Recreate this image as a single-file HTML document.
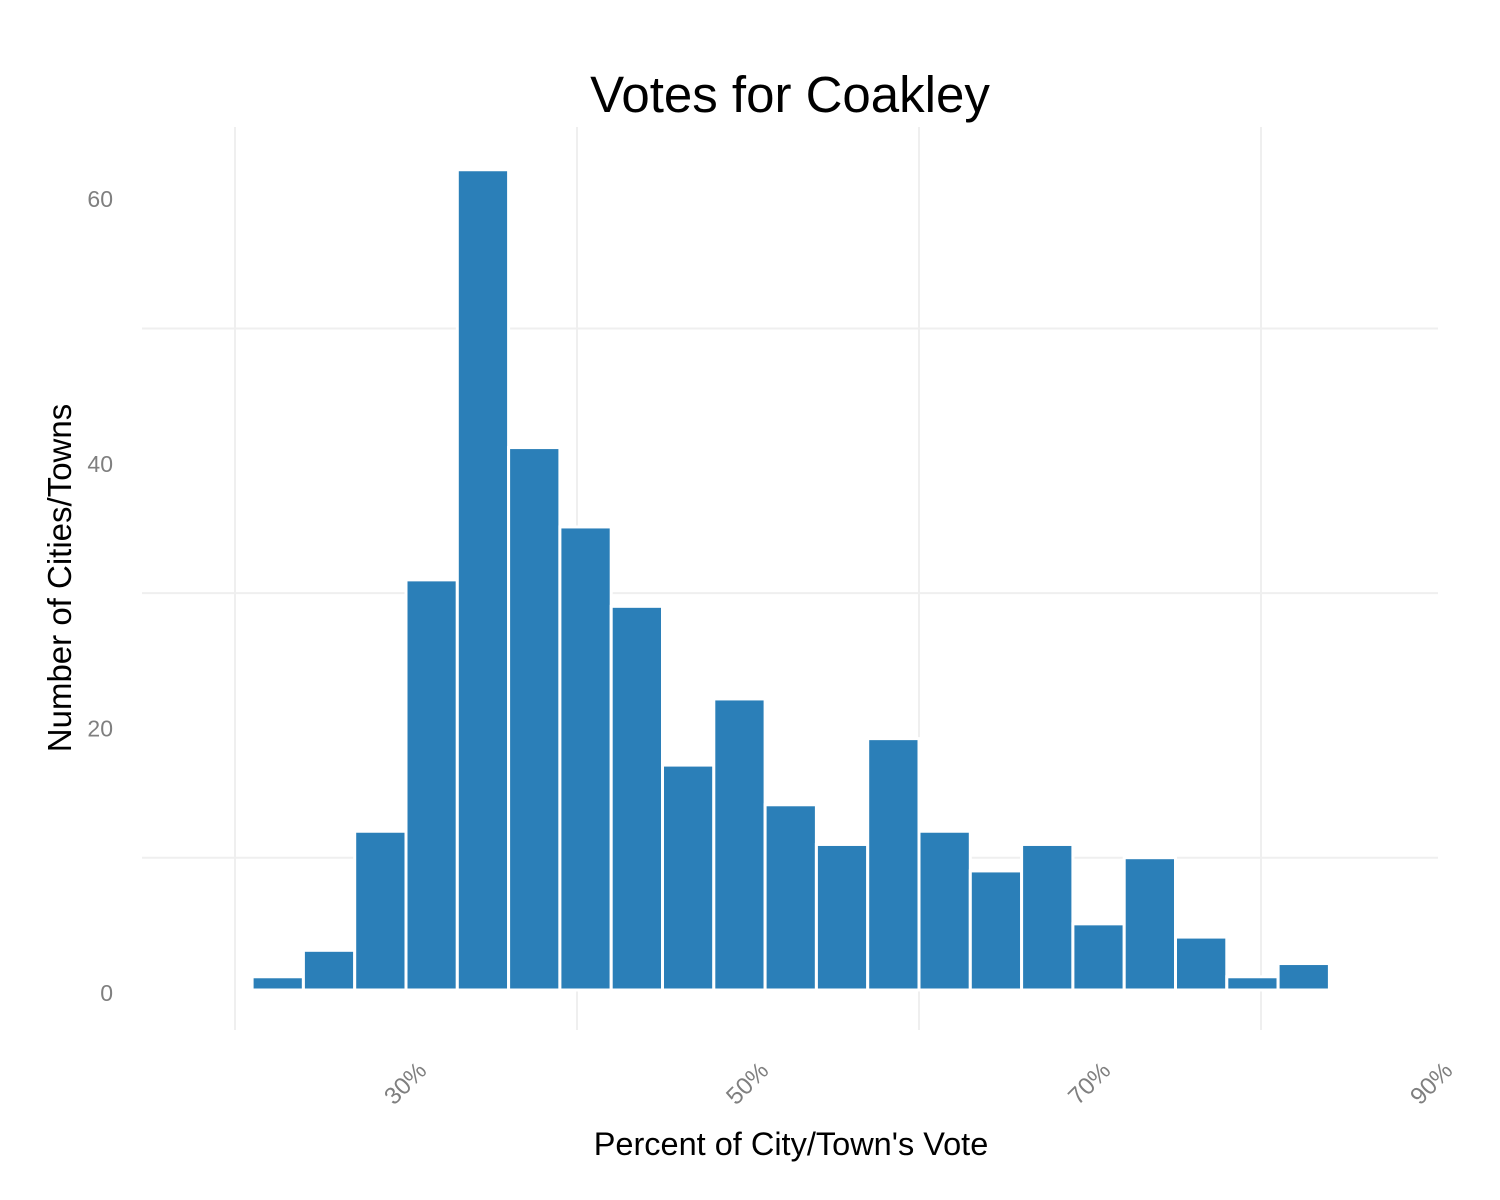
<!DOCTYPE html>
<html><head><meta charset="utf-8">
<style>
html,body{margin:0;padding:0;background:#fff;}
svg{display:block;font-family:"Liberation Sans",Arial,sans-serif;}
</style></head>
<body>
<svg id="chart" width="1500" height="1200" viewBox="0 0 1500 1200">
<text x="790" y="112" font-size="51" text-anchor="middle" fill="#000">Votes for Coakley</text>
<g id="grid"></g>
<g id="bars"></g>
<g id="yticks"></g>
<g id="xticks"></g>
<text x="791" y="1155" font-size="32.5" text-anchor="middle" fill="#000">Percent of City/Town's Vote</text>
<text transform="translate(71,578) rotate(-90)" font-size="33" text-anchor="middle" fill="#000">Number of Cities/Towns</text>
</svg>
<script>
const binCenters = [22.5,25.5,28.5,31.5,34.5,37.5,40.5,43.5,46.5,49.5,52.5,55.5,58.5,61.5,64.5,67.5,70.5,73.5,76.5,79.5,82.5];
const counts = [1,3,12,31,62,41,35,29,17,22,14,11,19,12,9,11,5,10,4,1,2];
const binWidth = 3;
const yTickValues = [0,20,40,60];
const yTickLabels = ["0","20","40","60"];
const yGridValues = [10,30,50];
const xGridValues = [20,40,60,80];
const xTickValues = [30,50,70,90];
const xTickLabels = ["30%","50%","70%","90%"];

const NS = "http://www.w3.org/2000/svg";
function xs(v){ return 235 + (v - 20) * 17.1; }
function ys(v){ return 990 - v * 13.23; }
function mk(tag, attrs, parent){
  const e = document.createElementNS(NS, tag);
  for (const k in attrs) e.setAttribute(k, attrs[k]);
  parent.appendChild(e);
  return e;
}
const grid = document.getElementById('grid');
yGridValues.forEach(v => {
  const l = mk('line', {x1:142, x2:1438, y1:ys(v), y2:ys(v), stroke:'#efefef', 'stroke-width':2}, grid);
  
  
});
xGridValues.forEach(v => {
  const l = mk('line', {x1:xs(v), x2:xs(v), y1:127, y2:1030, stroke:'#efefef', 'stroke-width':2}, grid);
  
  
});
const bars = document.getElementById('bars');
binCenters.forEach((c, i) => {
  const x0 = xs(c - binWidth/2), x1 = xs(c + binWidth/2);
  const y = ys(counts[i]);
  const r = mk('rect', {x:x0, y:y, width:x1-x0, height:ys(0)-y, fill:'#2b7fb8', stroke:'#ffffff', 'stroke-width':3}, bars);
  
  
});
const yt = document.getElementById('yticks');
yTickValues.forEach((v, i) => {
  const t = mk('text', {x:113, y:ys(v)+11, 'font-size':23, fill:'#7f7f7f', 'text-anchor':'end'}, yt);
  t.textContent = yTickLabels[i];
  
  
});
const xt = document.getElementById('xticks');
xTickValues.forEach((v, i) => {
  const x = xs(v) + 22, y = 1072;
  const t = mk('text', {x:x, y:y, 'font-size':24, fill:'#7f7f7f', 'text-anchor':'end', transform:'rotate(-45 '+x+' '+y+')'}, xt);
  t.textContent = xTickLabels[i];
  
  
});
</script>
</body></html>
